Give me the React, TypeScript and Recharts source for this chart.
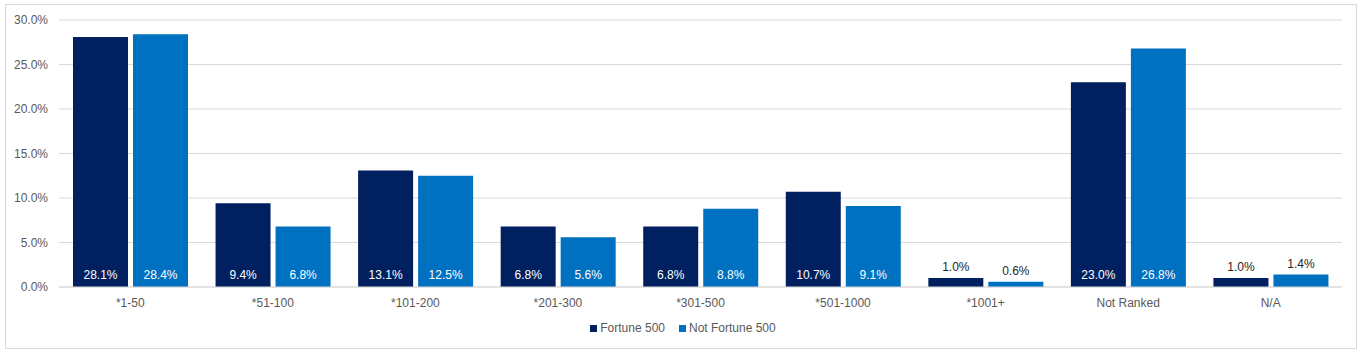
import React from 'react';
import { BarChart, Bar, XAxis, YAxis, CartesianGrid, Legend, LabelList } from 'recharts';

const categories = ['*1-50', '*51-100', '*101-200', '*201-300', '*301-500', '*501-1000', '*1001+', 'Not Ranked', 'N/A'];
const fortune500 = [28.1, 9.4, 13.1, 6.8, 6.8, 10.7, 1.0, 23.0, 1.0];
const notFortune500 = [28.4, 6.8, 12.5, 5.6, 8.8, 9.1, 0.6, 26.8, 1.4];
const yTicks = [0, 5, 10, 15, 20, 25, 30];

const data = categories.map((c, i) => ({ name: c, f: fortune500[i], nf: notFortune500[i] }));

const FONT = '"Liberation Sans", Arial, sans-serif';
const COLORS = { f: '#002060', nf: '#0070c0' };

const renderLabel = (props: any) => {
  const { x, y, width, height, value } = props;
  const cx = x + width / 2;
  const base = y + height;
  const txt = `${Number(value).toFixed(1)}%`;
  if (value >= 3) {
    return (
      <text x={cx} y={base - 8} textAnchor="middle" fill="#ffffff" fontSize={12} fontFamily={FONT}>
        {txt}
      </text>
    );
  }
  return (
    <text x={cx} y={y - 7} textAnchor="middle" fill="#262626" fontSize={12} fontFamily={FONT}>
      {txt}
    </text>
  );
};

const renderLegend = () => (
  <div
    style={{
      width: 1350,
      display: 'flex',
      justifyContent: 'center',
      alignItems: 'center',
      fontSize: 12,
      fontFamily: FONT,
      color: '#595959',
      lineHeight: '14px',
      paddingLeft: 4,
      boxSizing: 'border-box',
    }}
  >
    <span style={{ display: 'inline-flex', alignItems: 'center', marginRight: 14 }}>
      <span style={{ width: 7, height: 7, background: COLORS.f, marginRight: 3, display: 'inline-block' }} />
      Fortune 500
    </span>
    <span style={{ display: 'inline-flex', alignItems: 'center' }}>
      <span style={{ width: 7, height: 7, background: COLORS.nf, marginRight: 3, display: 'inline-block' }} />
      Not Fortune 500
    </span>
  </div>
);

export default function App() {
  return (
    <div
      style={{
        position: 'absolute',
        left: 5,
        top: 4,
        width: 1350,
        height: 343,
        border: '1px solid #d9d9d9',
        background: '#fff',
        fontFamily: FONT,
      }}
    >
      <BarChart
        width={1350}
        height={343}
        data={data}
        margin={{ top: 15, right: 14, left: 0, bottom: 0 }}
        barCategoryGap={14}
        barGap={5}
      >
        <CartesianGrid vertical={false} stroke="#d9d9d9" />
        <XAxis
          dataKey="name"
          axisLine={{ stroke: '#d9d9d9' }}
          tickLine={false}
          tickSize={0}
          tickMargin={11}
          height={40}
          tick={{ fill: '#595959', fontSize: 12, fontFamily: FONT }}
        />
        <YAxis
          width={53}
          domain={[0, 30]}
          ticks={yTicks}
          axisLine={false}
          tickLine={false}
          tickSize={0}
          tickMargin={11}
          tickFormatter={(v: number) => `${v.toFixed(1)}%`}
          tick={{ fill: '#595959', fontSize: 12, fontFamily: FONT }}
        />
        <Legend
          verticalAlign="bottom"
          align="center"
          height={21}
          content={renderLegend}
          wrapperStyle={{ left: 0, width: 1350, bottom: 6 }}
        />
        <Bar dataKey="f" name="Fortune 500" fill={COLORS.f} isAnimationActive={false}>
          <LabelList dataKey="f" content={renderLabel} />
        </Bar>
        <Bar dataKey="nf" name="Not Fortune 500" fill={COLORS.nf} isAnimationActive={false}>
          <LabelList dataKey="nf" content={renderLabel} />
        </Bar>
      </BarChart>
    </div>
  );
}
